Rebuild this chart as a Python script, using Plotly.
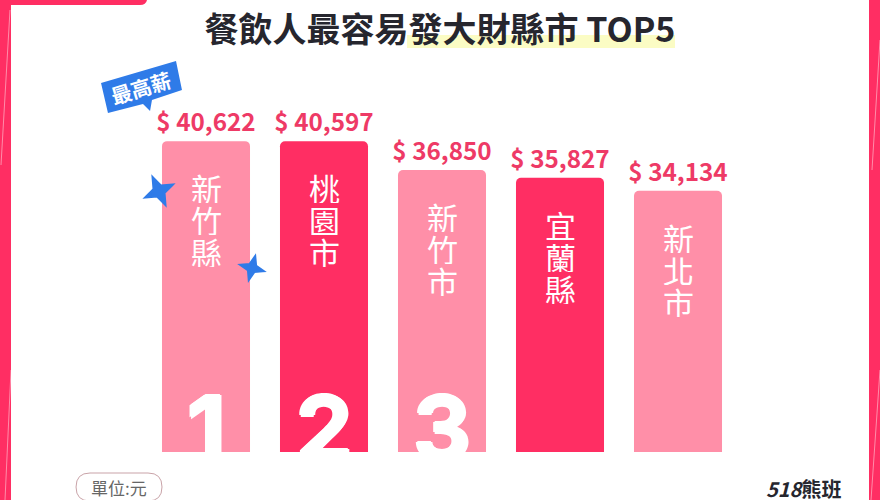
import math
import plotly.graph_objects as go

# Data
counties = ['新竹縣', '桃園市', '新竹市', '宜蘭縣', '新北市']
salaries = [40622, 40597, 36850, 35827, 34134]
ranks = ['1', '2', '3']
title_text = '餐飲人最容易發大財縣市 TOP5'
unit_text = '單位:元'
badge_text = '最高薪'
logo_text = '<b><i>518</i>熊班</b>'

W, H = 880, 500
CJK = 'Noto Sans CJK TC'
PINK = '#ff2e63'
LIGHT = '#ff8fa8'
BLUE = '#2f7be8'
DARK = '#26262e'


# margins are zero so paper coords are just page pixels
def px(x):
    return x / W


def py(y):
    return 1 - y / H


def path_shape(path, color, stroke=0, layer='above', line_color=None):
    return dict(type='path', xref='paper', yref='paper', path=path, fillcolor=color,
                line=dict(width=stroke, color=line_color or color), layer=layer)


def poly(points, color, stroke=0):
    path = 'M' + ' L'.join(f'{px(x):.4f},{py(y):.4f}' for x, y in points) + ' Z'
    return path_shape(path, color, stroke)


def box(x0, y0, x1, y1, color):
    return dict(type='rect', xref='paper', yref='paper', x0=px(x0), x1=px(x1),
                y0=py(y0), y1=py(y1), fillcolor=color, line=dict(width=0), layer='below')


def streak(x0, y0, x1, y1):
    return dict(type='line', xref='paper', yref='paper', x0=px(x0), x1=px(x1), y0=py(y0), y1=py(y1),
                line=dict(color='rgba(255,255,255,0.45)', width=1), layer='below')


def star(cx, cy, r, tilt):
    # four point sparkle
    pts = []
    for i in range(8):
        rad = r if i % 2 == 0 else r * 0.38
        a = math.radians(tilt + i * 45)
        pts.append((cx + rad * math.cos(a), cy + rad * math.sin(a)))
    return poly(pts, BLUE, stroke=3)


def pill(x0, y0, x1, y1):
    r = (y1 - y0) / 2
    p = lambda x, y: f'{px(x):.4f},{py(y):.4f}'
    path = (f'M{p(x0 + r, y0)} L{p(x1 - r, y0)} Q{p(x1, y0)} {p(x1, y0 + r)} Q{p(x1, y1)} {p(x1 - r, y1)} '
            f'L{p(x0 + r, y1)} Q{p(x0, y1)} {p(x0, y0 + r)} Q{p(x0, y0)} {p(x0 + r, y0)} Z')
    return path_shape(path, 'white', stroke=1, layer='below', line_color='#c9a3a8')


def page_text(x, y, text, **font):
    angle = font.pop('angle', 0)
    return dict(x=px(x), y=py(y), xref='paper', yref='paper', text=text, showarrow=False,
                xanchor='center', yanchor='middle', textangle=angle, font=font)


colors = [LIGHT, PINK, LIGHT, PINK, LIGHT]
fig = go.Figure(go.Bar(
    x=counties, y=salaries, marker=dict(color=colors, line=dict(width=0)),
    text=[f'$ {v:,}' for v in salaries], textposition='outside', cliponaxis=False, constraintext='none',
    textfont=dict(family=CJK, size=24.3, color='#ee3a66', weight='bold'),
    hoverinfo='skip',
))

shapes = [
    box(0, 0, 11, 500, PINK),
    box(869, 0, 880, 500, PINK),
    streak(10, 10, 1, 165),
    streak(11, 370, 5, 500),
    streak(880, 40, 872, 170),
    streak(880, 370, 871, 500),
    path_shape(f'M{px(10)},{py(0)} L{px(147)},{py(0)} Q{px(146)},{py(5)} {px(140)},{py(5)} L{px(10)},{py(5)} Z', PINK),
    box(407, 35, 675, 48, '#fbfcc4'),
    poly([(101, 83), (176, 61), (182, 90), (152, 100), (150, 111), (143, 104), (108, 113)], BLUE),
    star(159, 191, 14, -25),
    star(252, 268, 11, 15),
    pill(76, 473, 162, 501),
]

annotations = []
# rank numerals sit low, the part under the bar is white on white
thick = '1.5px 0 0 white,-1.5px 0 0 white,0 1.5px 0 white,0 -1.5px 0 white'
for name, rank in zip(counties, ranks):
    annotations.append(dict(x=name, y=py(427), xref='x', yref='paper', text=f'<b>{rank}</b>', showarrow=False,
                            xanchor='center', yanchor='middle',
                            font=dict(family='Inter', size=90, color='white', shadow=thick)))
# one annotation per character, <br> spacing is too wide for this column
for name, value in zip(counties, salaries):
    for i, ch in enumerate(name):
        annotations.append(dict(x=name, y=value, xref='x', yref='y', text=ch, showarrow=False, height=32,
                                xanchor='center', yanchor='middle', yshift=-46 - 32 * i,
                                font=dict(family=CJK, size=31, color='white')))
annotations += [
    page_text(141, 87, f'<b>{badge_text}</b>', family=CJK, size=20.5, color='white', angle=-17),
    page_text(119, 487, unit_text, family=CJK, size=17, color='#666666'),
    page_text(803, 488, logo_text, family=CJK, size=20, color=DARK),
]

fig.update_layout(
    width=W, height=H, margin=dict(l=0, r=0, t=0, b=0), showlegend=False,
    paper_bgcolor='white', plot_bgcolor='white', bargap=0.254,
    title=dict(text=f'<b>{title_text}</b>', x=0.5, xanchor='center', y=py(30), yanchor='middle',
               font=dict(family=CJK, size=34, color=DARK)),
    xaxis=dict(domain=[px(147), px(737)], showticklabels=False, showgrid=False, zeroline=False, showline=False),
    yaxis=dict(domain=[py(452), py(100)], range=[0, 46000], visible=False),
    barcornerradius=5, shapes=shapes, annotations=annotations,
)

fig.write_html('out.html', config=dict(displayModeBar=False), post_script="document.body.style.margin='0'")
